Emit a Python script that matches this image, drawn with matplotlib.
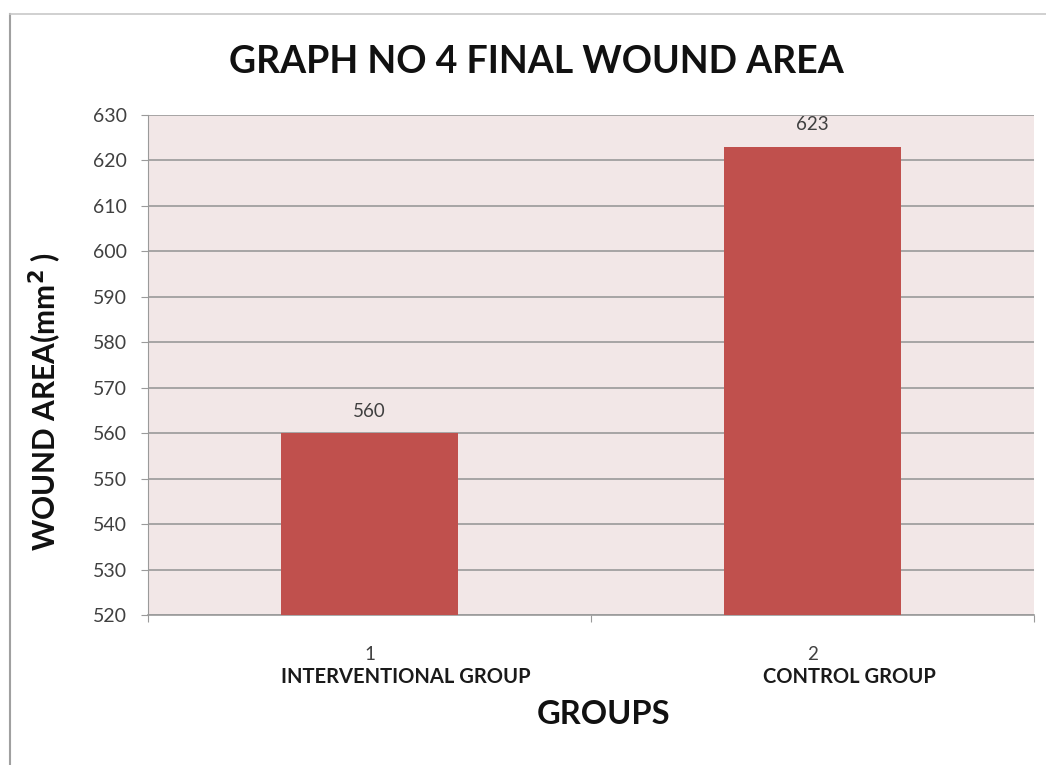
import matplotlib.pyplot as plt
from matplotlib.lines import Line2D

plt.rcParams['font.family'] = ['Lato', 'DejaVu Sans']

# data
groups = ['INTERVENTIONAL GROUP', 'CONTROL GROUP']
group_nums = [1, 2]
wound_area = [560, 623]

BAR_COLOR = '#c0504d'
PLOT_BG = '#f2e7e7'
GRID = '#9a9a9a'

W, H = 1046, 765
fig = plt.figure(figsize=(W / 100, H / 100), dpi=100)
ax = fig.add_axes([148 / W, 1 - 615 / H, (1034 - 148) / W, (615 - 115) / H])
ax.set_facecolor(PLOT_BG)

bars = ax.bar(group_nums, wound_area, width=0.4, color=BAR_COLOR, zorder=3)
for b, v in zip(bars, wound_area):
    ax.text(b.get_x() + b.get_width() / 2, v + 3.0, str(v), ha='center', va='bottom',
            fontsize=13.5, color='#404040', zorder=4)

ax.set_xlim(0.5, 2.5)
ax.set_ylim(520, 630)
ax.set_yticks(range(520, 631, 10))
ax.yaxis.grid(True, color=GRID, lw=1.2, zorder=1)
ax.set_axisbelow(True)

# category separators as ticks, labels placed under each bar
ax.set_xticks([0.5, 1.5, 2.5])
ax.set_xticklabels([])
ax.tick_params(axis='x', direction='out', length=5, color=GRID)
ax.tick_params(axis='y', direction='out', length=5, color=GRID, labelsize=14,
               labelcolor='#404040', pad=10)
for n, g in zip(group_nums, groups):
    ax.text(n, 511.2, str(n), ha='center', va='center', fontsize=13.5,
            color='#404040', clip_on=False)
    ax.text(n + 0.083, 506.4, g, ha='center', va='center', fontsize=14.5, fontweight='bold',
            color='#1a1a1a', clip_on=False)

for s in ['top', 'right']:
    ax.spines[s].set_visible(False)
ax.spines['left'].set_color(GRID)
ax.spines['bottom'].set_color(GRID)
ax.spines['bottom'].set_linewidth(1.2)

fig.text(536 / W, 1 - 62 / H, 'GRAPH NO 4 FINAL WOUND AREA', ha='center', va='center',
         fontsize=27, fontweight='bold', color='#111111')
fig.text(604 / W, 1 - 715 / H, 'GROUPS', ha='center', va='center',
         fontsize=23.5, fontweight='bold', color='#111111')
fig.text(45 / W, 1 - 402 / H, 'WOUND AREA(mm$^{\\mathbf{2}}$ )', ha='center', va='center',
         rotation=90, fontsize=21.5, fontweight='bold', color='#111111')

# outer frame, left and top edges
fig.add_artist(Line2D([10 / W, 10 / W], [0, 1 - 14 / H], transform=fig.transFigure,
                      color='#a0a0a0', lw=1.5))
fig.add_artist(Line2D([10 / W, 1], [1 - 14 / H, 1 - 14 / H], transform=fig.transFigure,
                      color='#c8c8c8', lw=1.2))

fig.savefig('out.png', dpi=100)
